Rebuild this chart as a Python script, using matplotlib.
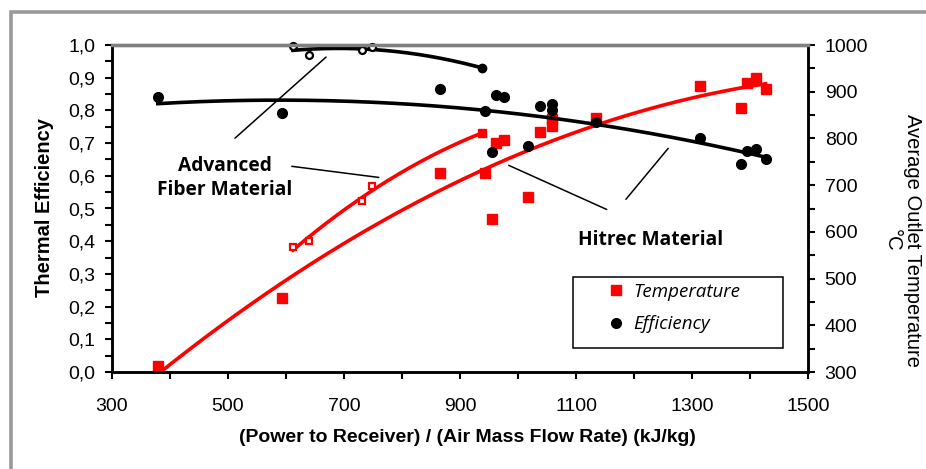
import matplotlib
matplotlib.use("Agg")
import matplotlib.pyplot as plt
import numpy as np
from matplotlib.patches import Rectangle
from matplotlib.lines import Line2D
from matplotlib.ticker import MultipleLocator, FixedLocator, FuncFormatter

W, H = 926, 469

# Hitrec material (filled markers)
hitrec_x = [379, 593, 865, 943, 955, 962, 976, 1017, 1038, 1059, 1059, 1134, 1314, 1384, 1395, 1410, 1427]
hitrec_eff = [0.840, 0.791, 0.865, 0.798, 0.672, 0.847, 0.840, 0.690, 0.813, 0.819, 0.801,
              0.764, 0.715, 0.635, 0.675, 0.681, 0.650]
hitrec_temp = [313, 459, 725, 727, 628, 790, 796, 674, 813, 841, 826, 843, 912, 865, 918, 929, 905]

# Advanced fiber material (open markers)
adv_x = [612, 640, 731, 748, 938]
adv_eff = [0.997, 0.969, 0.985, 0.995, 0.929]
adv_temp = [568, 581, 665, 699, 811]

x_ticks = [300, 500, 700, 900, 1100, 1300, 1500]

RED = "#ff0000"
SANS = ["Liberation Sans", "DejaVu Sans"]
HUMAN = ["Open Sans", "DejaVu Sans"]


def fx(px):
    return px / W


def fy(py):
    return 1 - py / H


def trend(x, y, deg=2):
    coef = np.polyfit(x, y, deg)
    xs = np.linspace(min(x), max(x), 200)
    return xs, np.polyval(coef, xs)


fig = plt.figure(figsize=(W / 100, H / 100), dpi=100)
ax = fig.add_axes([fx(112), fy(372), 696 / W, 327 / H])
ax2 = ax.twinx()
ax.set_zorder(2)
ax.patch.set_visible(False)

# temperature (right axis)
xs, ys = trend(hitrec_x, hitrec_temp)
ax2.plot(xs, ys, color=RED, lw=2.6)
xs, ys = trend(adv_x, adv_temp)
ax2.plot(xs, ys, color=RED, lw=2.6)
ax2.plot(hitrec_x, hitrec_temp, ls="none", marker="s", ms=7, color=RED)
ax2.plot(adv_x[:-1], adv_temp[:-1], ls="none", marker="s", ms=5, mfc="white", mec=RED, mew=1.6)
ax2.plot(adv_x[-1:], adv_temp[-1:], ls="none", marker="s", ms=6, color=RED)

# efficiency (left axis)
xs, ys = trend(hitrec_x, hitrec_eff)
ax.plot(xs, ys, color="black", lw=2.6)
xs, ys = trend(adv_x, adv_eff)
ax.plot(xs, ys, color="black", lw=2.6, clip_on=False)
ax.plot(hitrec_x, hitrec_eff, ls="none", marker="o", ms=7, color="black")
ax.plot(adv_x[:-1], adv_eff[:-1], ls="none", marker="o", ms=5, mfc="white", mec="black",
        mew=1.6, clip_on=False)
ax.plot(adv_x[-1:], adv_eff[-1:], ls="none", marker="o", ms=6, color="black")

ax.set_xlim(300, 1500)
ax.set_ylim(0, 1.0)
ax2.set_ylim(300, 1000)

ax.xaxis.set_major_locator(FixedLocator(x_ticks))
ax.xaxis.set_minor_locator(MultipleLocator(100))
ax.yaxis.set_major_locator(MultipleLocator(0.1))
ax.yaxis.set_minor_locator(MultipleLocator(0.05))
ax.yaxis.set_major_formatter(FuncFormatter(lambda v, p: f"{v:.1f}".replace(".", ",")))
ax2.yaxis.set_major_locator(MultipleLocator(100))
ax2.yaxis.set_minor_locator(MultipleLocator(50))

ax.tick_params(axis="both", which="both", direction="out", length=5, width=1.5, color="black")
ax.tick_params(axis="y", labelsize=14, pad=7)
ax.tick_params(axis="x", labelsize=14, pad=14)
ax2.tick_params(axis="y", which="both", direction="out", length=5, width=1.5, labelsize=14, pad=7)
for lab in ax.get_yticklabels() + ax2.get_yticklabels() + ax.get_xticklabels():
    lab.set_family(SANS)

for a in (ax, ax2):
    for side in ("left", "right", "bottom"):
        a.spines[side].set_linewidth(1.8)
        a.spines[side].set_color("black")
    a.spines["top"].set_color("#808080")
    a.spines["top"].set_linewidth(2.4)

# axis titles
fig.text(fx(45), fy(207), "Thermal Efficiency", rotation=90, ha="center", va="center",
         fontsize=14.5, fontweight="bold", family=SANS)
fig.text(fx(467), fy(437), "(Power to Receiver) / (Air Mass Flow Rate) (kJ/kg)",
         ha="center", va="center", fontsize=14, fontweight="bold", family=SANS)
fig.text(fx(902), fy(240), "Average Outlet Temperature\n\u00b0C", rotation=270, ha="center",
         va="center", multialignment="center", fontsize=14.5, family=SANS, linespacing=1.1)

# material labels and leader lines
ax.text(495, 0.594, "Advanced\nFiber Material", ha="center", va="center", fontsize=13.8,
        fontweight="bold", family=HUMAN, linespacing=1.25)
ax.text(1228, 0.405, "Hitrec Material", ha="center", va="center", fontsize=13.8,
        fontweight="bold", family=HUMAN)
leaders = [((512, 0.715), (669, 0.963)), ((610, 0.629), (760, 0.595)),
           ((984, 0.632), (1153, 0.497)), ((1186, 0.528), (1259, 0.684))]
for p0, p1 in leaders:
    ax.annotate("", xy=p1, xytext=p0, arrowprops=dict(arrowstyle="-", lw=1.1, color="black",
                                                      shrinkA=0, shrinkB=0))

# legend
handles = [Line2D([], [], ls="none", marker="s", ms=7, color=RED),
           Line2D([], [], ls="none", marker="o", ms=7, color="black")]
ax.add_patch(Rectangle(((573 - 112) / 696, (372 - 348) / 327), 210 / 696, 71 / 327,
                       transform=ax.transAxes, fill=False, ec="black", lw=1.1, zorder=5))
ax.legend(handles, ["Temperature", "Efficiency"], loc="upper left",
          bbox_to_anchor=((607 - 112) / 696, (372 - 283) / 327), frameon=False,
          prop=dict(family=HUMAN, style="italic", size=13.5), handlelength=1.0,
          handletextpad=0.4, labelspacing=0.75, borderpad=0, borderaxespad=0)

# outer frame
fig.patches.append(Rectangle((fx(10.5), -1), 5, 1 + fy(12), transform=fig.transFigure,
                             fill=False, ec="#999999", lw=2.6))

fig.savefig("out.png", dpi=100)
